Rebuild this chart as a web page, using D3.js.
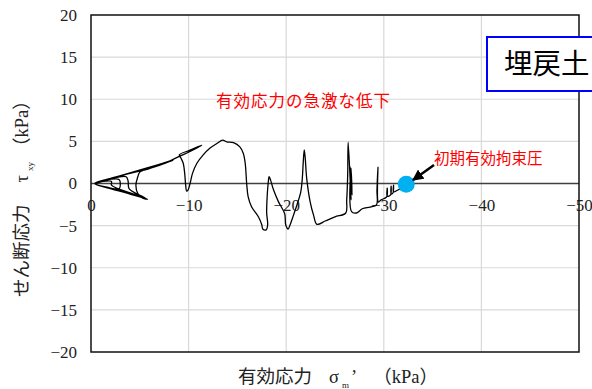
<!DOCTYPE html>
<html><head><meta charset="utf-8">
<script src="https://cdn.jsdelivr.net/npm/d3@7"></script>
<style>
html,body{margin:0;padding:0;background:#fff;overflow:hidden;}
svg{display:block;}
.serif{font-family:"Liberation Serif","DejaVu Serif","Noto Sans CJK JP",serif;}
.cjk{font-family:"Noto Sans CJK JP",sans-serif;}
</style></head>
<body>
<svg id="chart" width="592" height="389"></svg>
<script>
// ---- data ----
const xTicks = [0, -10, -20, -30, -40, -50];
const yTicks = [20, 15, 10, 5, 0, -5, -10, -15, -20];
const xDomain = [0, -50];
const yDomain = [-20, 20];
// effective stress path (σm', τxy) in kPa, in time order from the initial state
const pathSigma = [-32.0,-31.45,-31.0,-31.0,-30.95,-30.75,-30.75,-30.7,-30.35,-30.35,-30.3,-29.7,-29.45,-29.4,-29.3,-29.25,-28.6,-27.8,-27.2,-26.7,-26.65,-26.75,-26.55,-26.65,-26.35,-26.3,-26.2,-26.1,-25.0,-24.0,-23.15,-22.8,-22.45,-22.1,-21.95,-21.85,-21.75,-21.65,-21.5,-21.1,-20.75,-20.4,-20.2,-19.95,-19.85,-19.2,-18.7,-18.4,-18.25,-18.15,-18.05,-18.0,-18.1,-17.95,-17.6,-17.5,-17.15,-16.45,-16.1,-15.95,-15.8,-15.6,-15.25,-14.6,-13.9,-13.5,-12.9,-12.2,-11.5,-10.85,-10.4,-10.15,-9.95,-9.8,-9.7,-9.6,-9.45,-9.2,-9.05,-10.15,-11.35,-10.15,-9.1,-8.1,-7.05,-6.05,-4.0,-2.0,-0.4,-2.0,-4.0,-5.8,-5.3,-4.8,-4.6,-4.8,-5.0,-6.6,-8.4,-6.5,-4.0,-2.0,-0.4,-2.0,-3.7,-5.6,-5.2,-3.9,-3.8,-3.6,-2.0,-0.45,-1.8,-2.9,-3.0,-2.9,-1.5,-0.45,-3.0,-5.7,-4.5,-2.1,-2.1,-1.2,-0.5,-3.0,-7.8,-4.0,-0.5];
const pathTau = [-0.4,-0.77,-1.0,-0.2,-1.1,-1.25,-0.3,-1.35,-1.5,-0.55,-1.6,-1.95,-2.2,1.95,-0.8,-2.55,-2.8,-3.0,-3.5,-3.35,1.8,-1.35,2.0,-1.95,4.9,1.0,-1.95,-3.5,-3.95,-4.45,-4.85,-3.75,-2.15,0.6,3.0,4.0,2.6,0.6,-0.95,-2.55,-3.75,-4.9,-5.4,-4.9,-3.6,-2.15,-0.75,0.4,0.8,0.0,-1.55,-3.5,-4.9,-5.5,-5.4,-4.9,-3.95,-2.75,-1.55,0.0,2.4,3.6,4.35,4.85,4.95,5.15,4.75,4.2,3.4,2.4,1.2,0.0,-0.75,-0.9,-0.2,1.2,2.4,3.05,3.4,3.95,4.55,3.8,3.25,2.7,2.3,1.8,1.2,0.6,0.0,-0.6,-1.25,-1.85,-1.75,-1.2,-0.2,0.8,1.35,2.0,2.75,2.05,1.25,0.6,0.0,-0.55,-1.1,-1.75,-1.5,-0.6,0.3,0.8,0.55,0.0,-0.5,-0.6,0.0,0.45,0.4,0.0,-0.9,-1.8,-1.3,-0.2,0.25,0.25,0.0,0.9,2.55,1.25,0.0];
const initialPoint = [-32.3, -0.1];
const titleX = "有効応力";
const titleY = "せん断応力";
const unitLabel = "（kPa）";
const legendLabel = "埋戻土";
const noteDrop = "有効応力の急激な低下";
const noteInit = "初期有効拘束圧";

// ---- drawing ----
const svg = d3.select("#chart");
const L = 91, R = 579, T = 15, B = 352;
const x = d3.scaleLinear().domain(xDomain).range([L, R]);
const y = d3.scaleLinear().domain(yDomain).range([B, T]);
const fmt = d3.format("d");

// gridlines
const g = svg.append("g");
g.selectAll(".gx").data(xTicks.filter(d => d !== 0 && d !== -50)).join("line")
  .attr("x1", d => x(d)).attr("x2", d => x(d)).attr("y1", T).attr("y2", B)
  .attr("stroke", "#d9d9d9").attr("stroke-width", 1.2);
g.selectAll(".gy").data(yTicks.filter(d => d !== 0 && d !== 20 && d !== -20)).join("line")
  .attr("x1", L).attr("x2", R).attr("y1", d => y(d)).attr("y2", d => y(d))
  .attr("stroke", "#d9d9d9").attr("stroke-width", 1.2);

// x axis at zero
const xAxis = d3.axisBottom(x).tickValues(xTicks).tickSize(0).tickPadding(15).tickFormat(fmt);
const gx = svg.append("g").attr("transform", `translate(0,${y(0)})`).call(xAxis);
gx.attr("font-family", null).attr("font-size", null);
gx.select(".domain").remove();
gx.selectAll("text").attr("class", "serif").style("font-size", "17px").attr("fill", "#222");

const yAxis = d3.axisLeft(y).tickValues(yTicks).tickSize(0).tickPadding(14).tickFormat(fmt);
const gy = svg.append("g").attr("transform", `translate(${L},0)`).call(yAxis);
gy.attr("font-family", null).attr("font-size", null);
gy.select(".domain").remove();
gy.selectAll("text").attr("class", "serif").style("font-size", "17px").attr("fill", "#222");

// zero line
svg.append("line").attr("x1", L).attr("x2", R).attr("y1", y(0)).attr("y2", y(0))
  .attr("stroke", "#404040").attr("stroke-width", 1.6);

// plot frame
svg.append("rect").attr("x", L).attr("y", T).attr("width", R - L).attr("height", B - T)
  .attr("fill", "none").attr("stroke", "#111").attr("stroke-width", 1.5);

// stress path
const pts = pathSigma.map((s, i) => [s, pathTau[i]]);
const line = d3.line().x(d => x(d[0])).y(d => y(d[1])).curve(d3.curveCatmullRom.alpha(0.5));
svg.append("path").attr("d", line(pts)).attr("fill", "none")
  .attr("stroke", "#000").attr("stroke-width", 1.3).attr("stroke-linejoin", "round");

// initial point
svg.append("circle").attr("cx", x(initialPoint[0])).attr("cy", y(initialPoint[1])).attr("r", 8.5)
  .attr("fill", "#00B0F0");

// arrow
svg.append("defs").append("marker").attr("id", "ah").attr("viewBox", "0 0 10 10")
  .attr("refX", 9).attr("refY", 5).attr("markerWidth", 4.5).attr("markerHeight", 4.5)
  .attr("orient", "auto").append("path").attr("d", "M0,0L10,5L0,10z").attr("fill", "#000");
svg.append("line").attr("x1", 434).attr("y1", 165).attr("x2", 413).attr("y2", 180)
  .attr("stroke", "#000").attr("stroke-width", 2.5).attr("marker-end", "url(#ah)");

// annotations
svg.append("text").attr("class", "cjk").attr("x", 216).attr("y", 101).attr("dy", "0.35em")
  .style("font-size", "16.5px").attr("letter-spacing", 1)
  .attr("fill", "#ff0000").text(noteDrop);
svg.append("text").attr("class", "cjk").attr("x", 434).attr("y", 159).attr("dy", "0.35em")
  .style("font-size", "15.5px").attr("fill", "#ff0000").text(noteInit);

// legend box
svg.append("rect").attr("x", 487).attr("y", 37).attr("width", 130).attr("height", 54)
  .attr("fill", "#fff").attr("stroke", "#0000ff").attr("stroke-width", 2);
svg.append("text").attr("class", "cjk").attr("x", 504).attr("y", 64).attr("dy", "0.35em")
  .style("font-size", "28.5px").attr("fill", "#000").text(legendLabel);

// axis titles
const tx = svg.append("text").attr("class", "serif").attr("x", 238).attr("y", 377).attr("dy", "0.35em")
  .style("font-size", "18.5px").attr("fill", "#222");
tx.append("tspan").attr("class", "cjk").text(titleX);
tx.append("tspan").attr("dx", 17).text("σ");
tx.append("tspan").style("font-size", "9px").attr("dy", 5).attr("dx", 3).text("m");
tx.append("tspan").attr("dy", -5).attr("dx", 2).text("’");
tx.append("tspan").attr("dx", 16).attr("class", "serif").text(unitLabel);

const ty = svg.append("text").attr("class", "serif").attr("transform", "translate(22,297) rotate(-90)")
  .attr("dy", "0.35em").style("font-size", "18.5px").attr("fill", "#222");
ty.append("tspan").attr("class", "cjk").text(titleY);
ty.append("tspan").attr("dx", 22).text("τ");
ty.append("tspan").style("font-size", "9px").attr("dy", 5).attr("dx", 4).text("xy");
ty.append("tspan").attr("dy", -5).attr("dx", 6).text(unitLabel);
</script>
</body></html>
